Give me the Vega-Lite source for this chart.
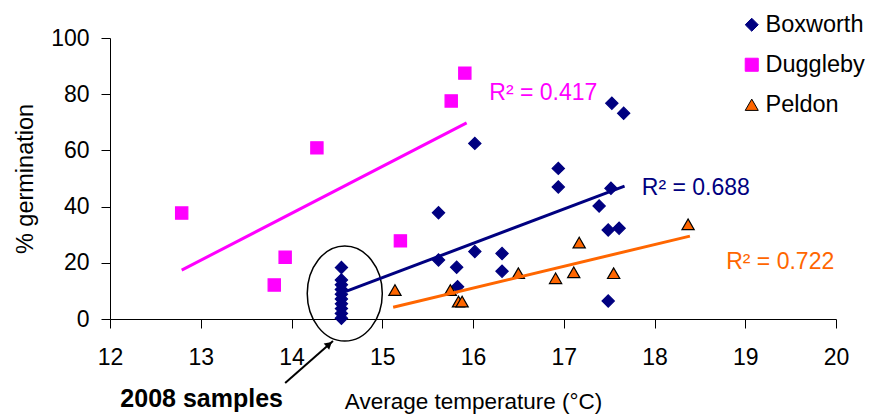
{
  "$schema": "https://vega.github.io/schema/vega-lite/v6.json",
  "width": 726,
  "height": 281,
  "autosize": {"type": "none"},
  "padding": {"left": 110, "top": 38, "right": 35, "bottom": 97},
  "config": {
    "view": {"stroke": null},
    "font": "Liberation Sans",
    "axis": {
      "grid": false,
      "domainColor": "#000000",
      "tickColor": "#000000",
      "labelColor": "#000000",
      "titleColor": "#000000",
      "labelFont": "Liberation Sans",
      "titleFont": "Liberation Sans",
      "labelFontSize": 23,
      "titleFontSize": 22.5,
      "titleFontWeight": "normal",
      "tickSize": 9,
      "domainWidth": 1,
      "tickWidth": 1,
      "labelFlush": false,
      "labelOverlap": false
    }
  },
  "datasets": {
    "points": [
      {"series": "Boxworth", "temp": 14.55, "germ": 18.3},
      {"series": "Boxworth", "temp": 14.55, "germ": 13.9},
      {"series": "Boxworth", "temp": 14.55, "germ": 12.2},
      {"series": "Boxworth", "temp": 14.55, "germ": 10.5},
      {"series": "Boxworth", "temp": 14.55, "germ": 8.8},
      {"series": "Boxworth", "temp": 14.55, "germ": 7.1},
      {"series": "Boxworth", "temp": 14.55, "germ": 5.4},
      {"series": "Boxworth", "temp": 14.55, "germ": 3.7},
      {"series": "Boxworth", "temp": 14.55, "germ": 2.0},
      {"series": "Boxworth", "temp": 14.55, "germ": 0.3},
      {"series": "Boxworth", "temp": 15.62, "germ": 37.8},
      {"series": "Boxworth", "temp": 15.62, "germ": 21.0},
      {"series": "Boxworth", "temp": 15.82, "germ": 18.4},
      {"series": "Boxworth", "temp": 15.83, "germ": 11.5},
      {"series": "Boxworth", "temp": 16.02, "germ": 62.5},
      {"series": "Boxworth", "temp": 16.02, "germ": 24.0},
      {"series": "Boxworth", "temp": 16.32, "germ": 23.3},
      {"series": "Boxworth", "temp": 16.32, "germ": 17.0},
      {"series": "Boxworth", "temp": 16.94, "germ": 53.6},
      {"series": "Boxworth", "temp": 16.94, "germ": 47.0},
      {"series": "Boxworth", "temp": 17.39, "germ": 40.2},
      {"series": "Boxworth", "temp": 17.53, "germ": 76.8},
      {"series": "Boxworth", "temp": 17.66, "germ": 73.2},
      {"series": "Boxworth", "temp": 17.52, "germ": 46.5},
      {"series": "Boxworth", "temp": 17.49, "germ": 31.7},
      {"series": "Boxworth", "temp": 17.61, "germ": 32.3},
      {"series": "Boxworth", "temp": 17.49, "germ": 6.4},
      {"series": "Duggleby", "temp": 12.79, "germ": 37.7},
      {"series": "Duggleby", "temp": 13.81, "germ": 12.1},
      {"series": "Duggleby", "temp": 13.93, "germ": 22.0},
      {"series": "Duggleby", "temp": 14.28, "germ": 60.9},
      {"series": "Duggleby", "temp": 15.2, "germ": 27.8},
      {"series": "Duggleby", "temp": 15.76, "germ": 77.6},
      {"series": "Duggleby", "temp": 15.91, "germ": 87.5},
      {"series": "Peldon", "temp": 15.14, "germ": 10.3},
      {"series": "Peldon", "temp": 15.75, "germ": 10.3},
      {"series": "Peldon", "temp": 15.84, "germ": 6.2},
      {"series": "Peldon", "temp": 15.88, "germ": 6.2},
      {"series": "Peldon", "temp": 16.5, "germ": 16.3},
      {"series": "Peldon", "temp": 16.91, "germ": 14.5},
      {"series": "Peldon", "temp": 17.11, "germ": 16.6},
      {"series": "Peldon", "temp": 17.17, "germ": 27.2},
      {"series": "Peldon", "temp": 17.55, "germ": 16.3},
      {"series": "Peldon", "temp": 18.37, "germ": 33.7}
    ],
    "trend": [
      {"series": "Duggleby", "temp": 12.79, "germ": 17.4},
      {"series": "Duggleby", "temp": 15.93, "germ": 69.8},
      {"series": "Boxworth", "temp": 14.6, "germ": 9.8},
      {"series": "Boxworth", "temp": 17.67, "germ": 47.3},
      {"series": "Peldon", "temp": 15.12, "germ": 4.2},
      {"series": "Peldon", "temp": 18.39, "germ": 29.5}
    ],
    "r2": [
      {"series": "Duggleby", "temp": 16.18, "germ": 80.4, "label": "R² = 0.417"},
      {"series": "Boxworth", "temp": 17.86, "germ": 46.6, "label": "R² = 0.688"},
      {"series": "Peldon", "temp": 18.79, "germ": 20.3, "label": "R² = 0.722"}
    ],
    "ellipse": [{"temp": 14.587, "germ": 9.07}],
    "note": [{"temp": 13.01, "germ": -28.5, "label": "2008 samples"}],
    "arrow": [{"temp": 13.93, "germ": -22.8, "temp2": 14.457, "germ2": -7.8}],
    "arrowhead": [{"temp": 14.415, "germ": -9.0}]
  },
  "layer": [
    {
      "data": {"name": "points"},
      "mark": {"type": "point", "filled": true, "opacity": 1, "strokeWidth": 1.2, "size": 150},
      "encoding": {
        "x": {"field": "temp", "type": "quantitative", "scale": {"domain": [12, 20], "nice": false},
          "axis": {"values": [12, 13, 14, 15, 16, 17, 18, 19, 20], "format": "d", "title": "Average temperature (°C)", "labelPadding": 18, "titleY": 89, "titleBaseline": "alphabetic"}},
        "y": {"field": "germ", "type": "quantitative", "scale": {"domain": [0, 100], "nice": false},
          "axis": {"values": [0, 20, 40, 60, 80, 100], "format": "d", "title": "% germination", "titleFontSize": 23.5, "labelPadding": 12, "titleX": -85, "titleY": 140.5, "titleAngle": -90, "titleBaseline": "middle", "titleAlign": "center"}},
        "fill": {"field": "series", "type": "nominal", "scale": {"domain": ["Boxworth", "Duggleby", "Peldon"], "range": ["#000080", "#FF00FF", "#FF6600"]},
          "legend": {"title": null, "orient": "none", "legendX": 630, "legendY": -25, "labelFont": "Liberation Sans", "labelFontSize": 23.5, "labelColor": "#000000", "symbolSize": 170, "rowPadding": 15, "labelOffset": 2, "padding": 0, "symbolStrokeWidth": 1}},
        "stroke": {"field": "series", "type": "nominal", "scale": {"domain": ["Boxworth", "Duggleby", "Peldon"], "range": ["#000080", "#FF00FF", "#000000"]},
          "legend": {"title": null, "orient": "none", "legendX": 630, "legendY": -25, "labelFont": "Liberation Sans", "labelFontSize": 23.5, "labelColor": "#000000", "symbolSize": 170, "rowPadding": 15, "labelOffset": 2, "padding": 0, "symbolStrokeWidth": 1}},
        "shape": {"field": "series", "type": "nominal", "scale": {"domain": ["Boxworth", "Duggleby", "Peldon"], "range": ["diamond", "square", "triangle-up"]},
          "legend": {"title": null, "orient": "none", "legendX": 630, "legendY": -25, "labelFont": "Liberation Sans", "labelFontSize": 23.5, "labelColor": "#000000", "symbolSize": 170, "rowPadding": 15, "labelOffset": 2, "padding": 0, "symbolStrokeWidth": 1}}
      }
    },
    {
      "data": {"name": "ellipse"},
      "mark": {"type": "point", "shape": "M-0.79,0 A0.79,1 0 1,0 0.79,0 A0.79,1 0 1,0 -0.79,0 Z", "size": 9025, "filled": false, "stroke": "#000000", "strokeWidth": 1.5, "opacity": 1},
      "encoding": {
        "x": {"field": "temp", "type": "quantitative"},
        "y": {"field": "germ", "type": "quantitative"}
      }
    },
    {
      "data": {"name": "trend"},
      "mark": {"type": "line", "strokeWidth": 3},
      "encoding": {
        "x": {"field": "temp", "type": "quantitative"},
        "y": {"field": "germ", "type": "quantitative"},
        "color": {"field": "series", "type": "nominal", "legend": null, "scale": {"domain": ["Boxworth", "Duggleby", "Peldon"], "range": ["#000080", "#FF00FF", "#FF6600"]}},
        "detail": {"field": "series"}
      }
    },
    {
      "data": {"name": "r2"},
      "mark": {"type": "text", "align": "left", "baseline": "middle", "fontSize": 23, "font": "Liberation Sans"},
      "encoding": {
        "x": {"field": "temp", "type": "quantitative"},
        "y": {"field": "germ", "type": "quantitative"},
        "text": {"field": "label"},
        "color": {"field": "series", "type": "nominal", "legend": null}
      }
    },
    {
      "data": {"name": "note"},
      "mark": {"type": "text", "align": "center", "baseline": "middle", "fontSize": 25, "fontWeight": "bold", "font": "Liberation Sans", "color": "#000000"},
      "encoding": {
        "x": {"field": "temp", "type": "quantitative"},
        "y": {"field": "germ", "type": "quantitative"},
        "text": {"field": "label"}
      }
    },
    {
      "data": {"name": "arrow"},
      "mark": {"type": "rule", "color": "#000000", "strokeWidth": 2},
      "encoding": {
        "x": {"field": "temp", "type": "quantitative"},
        "y": {"field": "germ", "type": "quantitative"},
        "x2": {"field": "temp2"},
        "y2": {"field": "germ2"}
      }
    },
    {
      "data": {"name": "arrowhead"},
      "mark": {"type": "point", "shape": "triangle-up", "angle": 49, "size": 70, "filled": true, "color": "#000000", "opacity": 1},
      "encoding": {
        "x": {"field": "temp", "type": "quantitative"},
        "y": {"field": "germ", "type": "quantitative"}
      }
    }
  ]
}
